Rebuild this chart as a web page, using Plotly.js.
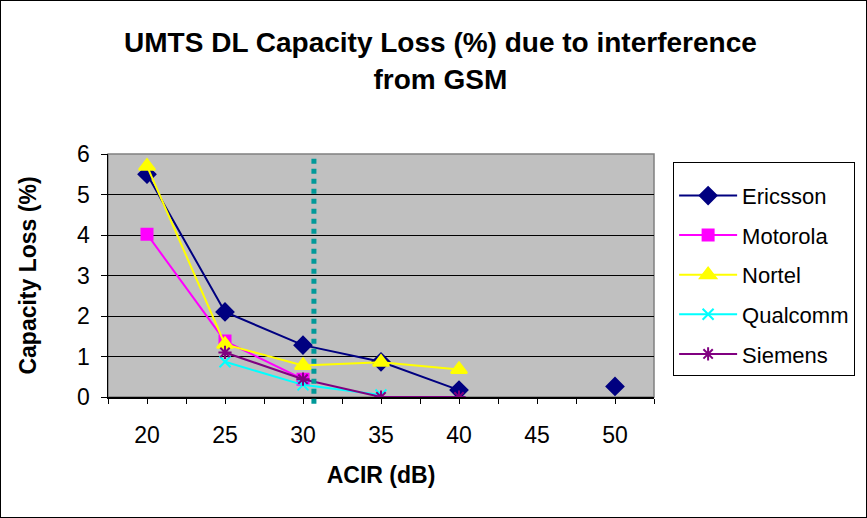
<!DOCTYPE html>
<html>
<head>
<meta charset="utf-8">
<script src="https://cdn.plot.ly/plotly-3.0.1.min.js"></script>
<style>
html,body{margin:0;padding:0;background:#fff;}
#chart{position:absolute;left:0;top:0;width:867px;height:518px;}
#frame{position:absolute;left:0;top:0;width:867px;height:518px;box-sizing:border-box;border:1px solid #000;pointer-events:none;}
</style>
</head>
<body>
<div id="chart"></div>
<div id="frame"></div>
<script>
// ACIR (dB) categories
const acir = [20, 25, 30, 35, 40, 45, 50];
// Capacity loss (%) per vendor (null = no value)
const ericsson = [5.5, 2.1, 1.28, 0.87, 0.17, null, 0.26];
const motorola = [4.02, 1.38, 0.44, null, null, null, null];
const nortel   = [5.7, 1.3, 0.78, 0.86, 0.68, null, null];
const qualcomm = [null, 0.87, 0.3, 0.05, null, null, null];
const siemens  = [null, 1.1, 0.44, 0.0, 0.0, null, null];
const seriesNames = ["Ericsson", "Motorola", "Nortel", "Qualcomm", "Siemens"];
const gsmThreshold = 30.7; // dashed reference line, ACIR (dB)

const styles = [
  {color: "#000080", symbol: "diamond", size: 13},
  {color: "#FF00FF", symbol: "square", size: 11},
  {color: "#FFFF00", symbol: "triangle-up", size: 14},
  {color: "#00FFFF", symbol: "x-thin-open", size: 11},
  {color: "#800080", symbol: "asterisk-open", size: 11}
];
const allSeries = [ericsson, motorola, nortel, qualcomm, siemens];

const traces = allSeries.map((ys, i) => ({
  type: "scatter",
  mode: "lines+markers",
  name: seriesNames[i],
  legendgroup: "g" + i,
  x: acir,
  y: ys,
  connectgaps: false,
  line: {color: styles[i].color, width: 2},
  marker: {color: styles[i].color, symbol: styles[i].symbol, size: styles[i].size,
           line: {color: styles[i].color, width: 2}}
}));

const font = "Liberation Sans, Arial, sans-serif";
const layout = {
  width: 867, height: 518,
  margin: {l: 108, r: 211, t: 154, b: 121},
  paper_bgcolor: "#ffffff",
  plot_bgcolor: "#C0C0C0",
  font: {family: font, size: 22, color: "#000"},
  showlegend: true,
  title: {
    text: "<b>UMTS DL Capacity Loss (%) due to interference<br>from GSM</b>",
    font: {family: font, size: 28, color: "#000"},
    x: 0.508, xanchor: "center", y: 0.899, yanchor: "top"
  },
  xaxis: {
    range: [17.5, 52.5],
    tickmode: "array", tickvals: acir, ticktext: acir.map(String),
    ticks: "outside", ticklen: 5, tickcolor: "#000", tickwidth: 1,
    minor: {dtick: 2.5, tick0: 17.5, ticks: "outside", ticklen: 5, tickcolor: "#000", showgrid: false},
    showgrid: false, zeroline: false,
    showline: true, linecolor: "#000", linewidth: 1.5,
    tickfont: {family: font, size: 23},
    ticklabelstandoff: 12,
    title: {text: "<b>ACIR (dB)</b>", font: {family: font, size: 23}, standoff: 20}
  },
  yaxis: {
    range: [0, 6], dtick: 1,
    ticks: "outside", ticklen: 6, tickcolor: "#000",
    showgrid: true, gridcolor: "#000", gridwidth: 1,
    zeroline: false,
    showline: true, linecolor: "#000", linewidth: 1.5,
    tickfont: {family: font, size: 23},
    ticklabelstandoff: 6,
    title: {text: "<b>Capacity Loss (%)</b>", font: {family: font, size: 23}, standoff: 34}
  },
  legend: {
    x: 1.035, xanchor: "left", y: 0.967, yanchor: "top",
    bordercolor: "#000", borderwidth: 1, bgcolor: "#fff",
    font: {family: font, size: 22},
    traceorder: "grouped", tracegroupgap: 8,
    itemwidth: 58,
    title: {text: " ", font: {size: 9}}
  },
  shapes: [
    {type: "rect", xref: "paper", yref: "paper", x0: 0, x1: 1, y0: 0, y1: 1,
     line: {color: "#808080", width: 1.5}, layer: "below"},
    {type: "line", xref: "x", yref: "paper", x0: gsmThreshold, x1: gsmThreshold, y0: -0.028, y1: 1,
     line: {color: "#009999", width: 5, dash: "dot"}, layer: "above"}
  ]
};

Plotly.newPlot("chart", traces, layout, {displayModeBar: false, staticPlot: true});
</script>
</body>
</html>
